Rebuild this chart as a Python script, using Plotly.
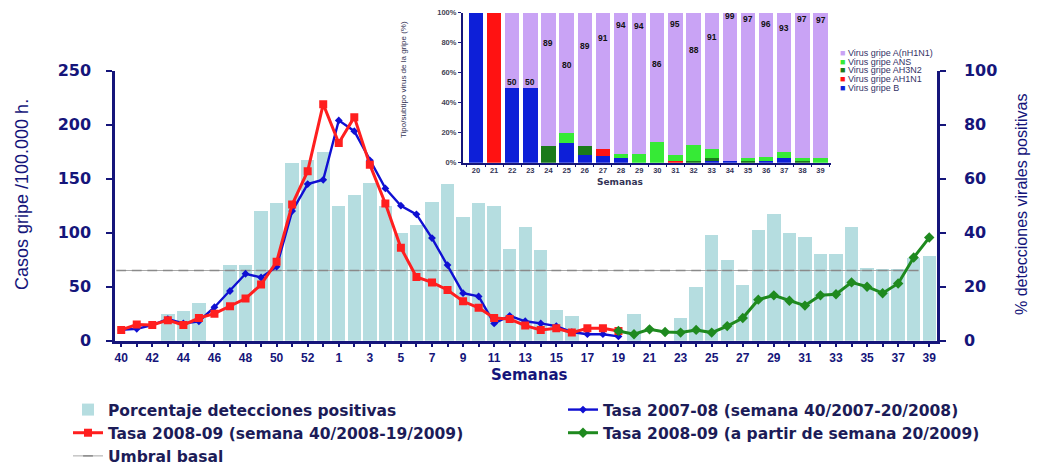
import plotly.graph_objects as go

# ---------------- DATA ----------------
weeks = ["40", "41", "42", "43", "44", "45", "46", "47", "48", "49", "50", "51", "52", "53",
         "1", "2", "3", "4", "5", "6", "7", "8", "9", "10", "11", "12", "13", "14", "15",
         "16", "17", "18", "19", "20", "21", "22", "23", "24", "25", "26", "27", "28", "29",
         "30", "31", "32", "33", "34", "35", "36", "37", "38", "39"]

# % positive viral detections (right axis), weeks 40 ... 39
pct_positive = [0, 0, 0, 10, 11, 14, 0, 28, 28, 48, 51, 66, 67, 70,
                50, 54, 58.5, 50, 40, 43, 51.5, 58, 46, 51, 50, 34, 42, 33.5, 11.5,
                9, 0, 0, 0, 10, 0, 0, 8.5, 20, 39, 30, 20.5, 41, 47,
                40, 38.5, 32, 32, 42, 27, 26.5, 26.5, 30.5, 31.5]

# Rate 2007-08, weeks 40 ... 19
rate_0708 = [10, 11, 14.5, 20, 16, 18, 31, 46, 62, 58.5, 68.5, 120, 145, 149,
             204, 194, 167, 141, 125, 117, 95, 70, 44, 41, 16, 23, 18, 16, 13.5,
             8, 6, 6, 4]

# Rate 2008-09, weeks 40 ... 19
rate_0809 = [10, 15, 14.5, 19, 14.5, 21, 25, 32, 39, 52, 73, 126, 157, 219,
             183, 207, 163, 127, 86, 59, 54, 47, 36.5, 30.5, 21, 20, 14, 10, 11.5,
             7.5, 11.5, 11.5, 9]

# Rate 2008-09 from week 20/2009, weeks 19 ... 39
rate_0809_pandemic = [9, 6, 10.5, 8, 7.5, 10, 7.5, 13.5, 21, 38, 42,
                      37, 32.5, 42, 43, 54, 50, 44, 53, 77, 95.5]

umbral = 65  # baseline threshold

# Inset: virus type/subtype (%), weeks 20 ... 39
inset_weeks = ["20", "21", "22", "23", "24", "25", "26", "27", "28", "29",
               "30", "31", "32", "33", "34", "35", "36", "37", "38", "39"]
virus_B     = [100, 0, 50, 50, 0, 13, 5, 4.5, 3, 0, 0, 0, 0, 1, 1, 0, 1, 3, 0, 0]
virus_AH1N1 = [0, 100, 0, 0, 0, 0, 0, 4.5, 0, 0, 0, 1, 0, 0, 0, 0, 0, 0, 0, 0]
virus_AH3N2 = [0, 0, 0, 0, 11, 0, 6, 0, 0, 0, 0, 0, 1, 2, 0, 1, 0, 0, 1, 0]
virus_ANS   = [0, 0, 0, 0, 0, 7, 0, 0, 3, 6, 14, 4, 11, 6, 0, 2, 3, 4, 2, 3]
virus_nH1N1 = [0, 0, 50, 50, 89, 80, 89, 91, 94, 94, 86, 95, 88, 91, 99, 97, 96, 93, 97, 97]

# ---------------- LAYOUT HELPERS ----------------
W, H = 1057, 465
def px(x):
    return x / W
def py(y):
    return 1 - y / H

NAVY = "#15157a"
LEG = "#1c1c58"
# vertical placement of the inset value labels (in % of the inset axis)
inset_label_pos = [None, None, 54, 54, 80, 65, 78, 83, 92, 91, 66, 92.5, 75, 84,
                   98, 95.5, 92.5, 89.5, 96, 95]

fig = go.Figure()

# main bars (right axis)
fig.add_trace(go.Bar(
    x=weeks, y=pct_positive, name="Porcentaje detecciones positivas",
    marker=dict(color="#b5dde0", line_width=0), width=0.86,
    xaxis="x", yaxis="y", legendrank=1, hoverinfo="skip"))

# threshold
n_umb = len(weeks) - 1
fig.add_trace(go.Scatter(
    x=weeks[:n_umb], y=[umbral] * n_umb, name="Umbral basal", mode="lines+markers",
    line=dict(color="#a8a8a8", width=1),
    marker=dict(symbol="line-ew", size=7, color="#8a8a8a", line=dict(width=1.5, color="#8a8a8a")),
    xaxis="x", yaxis="y2", legendrank=5, hoverinfo="skip"))

fig.add_trace(go.Scatter(
    x=weeks[:len(rate_0708)], y=rate_0708, name="Tasa 2007-08 (semana 40/2007-20/2008)",
    mode="lines+markers", line=dict(color="#1010d2", width=2.4),
    marker=dict(symbol="diamond", size=6, color="#1010d2"),
    xaxis="x", yaxis="y2", legendrank=2, hoverinfo="skip"))

fig.add_trace(go.Scatter(
    x=weeks[:len(rate_0809)], y=rate_0809, name="Tasa 2008-09 (semana 40/2008-19/2009)",
    mode="lines+markers", line=dict(color="#ff1f1f", width=3),
    marker=dict(symbol="square", size=8, color="#ff1f1f"),
    xaxis="x", yaxis="y2", legendrank=3, hoverinfo="skip"))

start_p = weeks.index("19")
fig.add_trace(go.Scatter(
    x=weeks[start_p:], y=rate_0809_pandemic, name="Tasa 2008-09 (a partir de semana 20/2009)",
    mode="lines+markers", line=dict(color="#1f8a1f", width=3),
    marker=dict(symbol="diamond", size=8, color="#1f8a1f"),
    xaxis="x", yaxis="y2", legendrank=4, hoverinfo="skip"))

# inset stacked bars
inset_series = [
    ("Virus gripe B", virus_B, "#0d1fd8"),
    ("Virus gripe AH1N1", virus_AH1N1, "#ff1212"),
    ("Virus gripe AH3N2", virus_AH3N2, "#1b7a1b"),
    ("Virus gripe ANS", virus_ANS, "#36ea36"),
    ("Virus gripe A(nH1N1)", virus_nH1N1, "#c9a3f5"),
]
for name, vals, col in inset_series:
    fig.add_trace(go.Bar(
        x=inset_weeks, y=vals, name=name, marker=dict(color=col, line_width=0),
        width=0.79, xaxis="x3", yaxis="y3", showlegend=False, hoverinfo="skip"))

annotations = []
# inset value labels (category axis -> positions by category index)
for i, (v, pos) in enumerate(zip(virus_nH1N1, inset_label_pos)):
    if v > 0 and pos is not None:
        annotations.append(dict(
            x=i, y=pos, xref="x3", yref="y3", text="<b>%d</b>" % v, showarrow=False,
            xanchor="center", yanchor="middle",
            font=dict(family="Liberation Sans", size=8.5, color="#111111")))

# inset legend (text entries with coloured squares)
leg_y = [52.7, 61.7, 70.3, 79.3, 87.7]
for (name, vals, col), yy in zip(reversed(inset_series), leg_y):
    annotations.append(dict(
        x=px(838), y=py(yy), xref="paper", yref="paper", xanchor="left", yanchor="middle",
        showarrow=False,
        text="<span style='color:%s'>■</span> %s" % (col, name),
        font=dict(family="Liberation Sans", size=9, color="#333366")))

# axis titles
annotations += [
    dict(x=px(22), y=py(195), xref="paper", yref="paper", textangle=-90, showarrow=False,
         xanchor="center", yanchor="middle",
         text="Casos gripe /100.000 h.",
         font=dict(family="Liberation Sans", size=18, color=NAVY)),
    dict(x=px(1021), y=py(205), xref="paper", yref="paper", textangle=-90, showarrow=False,
         xanchor="center", yanchor="middle",
         text="% detecciones virales positivas",
         font=dict(family="Liberation Sans", size=16, color=NAVY)),
    dict(x=px(529), y=py(375), xref="paper", yref="paper", showarrow=False,
         xanchor="center", yanchor="middle",
         text="<b>Semanas</b>",
         font=dict(family="DejaVu Sans", size=15, color=NAVY)),
    dict(x=px(620), y=py(182), xref="paper", yref="paper", showarrow=False,
         xanchor="center", yanchor="middle",
         text="<b>Semanas</b>",
         font=dict(family="DejaVu Sans", size=9, color="#333355")),
    dict(x=px(403), y=py(80), xref="paper", yref="paper", textangle=-90, showarrow=False,
         xanchor="center", yanchor="middle",
         text="Tipo/subtipo virus de la gripe (%)",
         font=dict(family="Liberation Sans", size=8, color="#333355")),
]

axis_common = dict(showgrid=False, zeroline=False, showline=True, linecolor=NAVY,
                   ticks="outside", tickcolor=NAVY, automargin=False)

fig.update_layout(
    width=W, height=H,
    margin=dict(l=0, r=0, t=0, b=0, autoexpand=False),
    paper_bgcolor="white", plot_bgcolor="white",
    barmode="stack",
    hovermode=False,
    xaxis=dict(type="category", domain=[px(115), px(937)], anchor="y",
               range=[-0.4, 52.5], tickmode="linear", tick0=0, dtick=1, ticklabelstep=2,
               ticklen=4, tickwidth=1.5, linewidth=2.5, ticklabelstandoff=0, tickangle=0,
               tickfont=dict(family="Liberation Sans", size=12, color=NAVY, weight="bold"),
               **axis_common),
    yaxis=dict(domain=[py(340.7), py(70.7)], anchor="x", side="right",
               range=[0, 100], dtick=20, tick0=0, ticklen=6, tickwidth=2, linewidth=2.5,
               ticklabelstandoff=15,
               tickfont=dict(family="DejaVu Sans", size=16, color=NAVY, weight="bold"),
               **axis_common),
    yaxis2=dict(overlaying="y", anchor="x", side="left",
                range=[0, 250], dtick=50, tick0=0, ticklen=6, tickwidth=2, linewidth=2.5,
                ticklabelstandoff=12,
                tickfont=dict(family="DejaVu Sans", size=16, color=NAVY, weight="bold"),
                **axis_common),
    xaxis3=dict(type="category", domain=[px(462.7), px(830.7)], anchor="y3",
                range=[-0.73, 19.56], tickson="boundaries", ticklen=3, tickwidth=1,
                linewidth=1.5, tickangle=0,
                tickfont=dict(family="Liberation Sans", size=7.5, color="#333355", weight="bold"),
                **axis_common),
    yaxis3=dict(domain=[py(162.7), py(12.7)], anchor="x3",
                range=[0, 100], dtick=20, tick0=0, ticksuffix="%", ticklen=3, tickwidth=1,
                linewidth=1.5,
                tickfont=dict(family="Liberation Sans", size=7.5, color="#444455", weight="bold"),
                **axis_common),
    legend=dict(orientation="h", x=px(68), y=py(393), xanchor="left", yanchor="top",
                traceorder="normal",
                entrywidth=450, itemwidth=30, bgcolor="rgba(0,0,0,0)",
                font=dict(family="DejaVu Sans", size=15.5, color=LEG, weight="bold")),
    annotations=annotations,
)

fig.write_html("out.html", config={"displayModeBar": False},
               post_script="document.body.style.margin='0px';")
